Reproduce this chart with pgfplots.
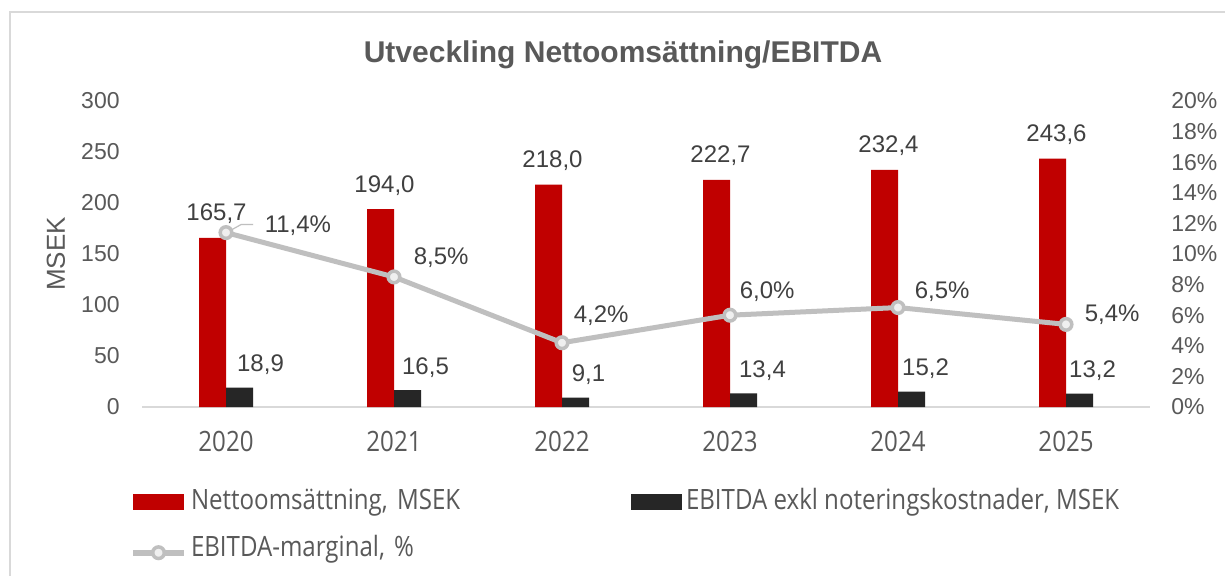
\documentclass[border=0pt]{standalone}
\usepackage{fontspec}
\setmainfont{Liberation Sans}
\newfontfamily\cond[FakeStretch=0.86]{Open Sans}
\usepackage{pgfplots}
\usepackage{pgfplotstable}
\pgfplotsset{compat=1.18}
\pgfplotsset{/pgf/number format/assume math mode=true}
\definecolor{cred}{HTML}{C00000}
\definecolor{cblack}{HTML}{262626}
\definecolor{cline}{HTML}{BFBFBF}
\definecolor{cmark}{HTML}{EFEFEF}
\definecolor{caxis}{HTML}{D9D9D9}
\definecolor{ctick}{HTML}{595959}
\definecolor{clabel}{HTML}{404040}

\pgfplotstableread{
x nett ebit marg bdx pdx pdy
0 165.7 18.9 11.4 10.5 18.5 0
1 194.0 16.5 8.5 9 9 6
2 218.0 9.1 4.2 6.5 5 10
3 222.7 13.4 6.0 9.5 4 8.5
4 232.4 15.2 6.5 7 7.5 4.5
5 243.6 13.2 5.4 6.5 8.5 1.5
}\data

\begin{document}
\begin{tikzpicture}
\useasboundingbox (0,0) rectangle (612.5pt,287.5pt);
\fill[white] (0,0) rectangle (612.5pt,287.5pt);
\draw[caxis, line width=0.75pt] (5pt,-20pt) rectangle (700pt,281.5pt);
\node[anchor=base, font=\bfseries\fontsize{15}{18}\selectfont, text=ctick] at (311.5pt,256.25pt) {Utveckling Nettoomsättning/EBITDA};
\node[rotate=90, font=\fontsize{13}{15}\selectfont, text=ctick] at (28pt,160.5pt) {MSEK};

\begin{axis}[
  at={(71pt,84pt)}, anchor=south west,
  scale only axis, width=504pt, height=153pt,
  xmin=-0.5, xmax=5.5, ymin=0, ymax=300,
  clip=false,
  ybar=0pt, bar width=13.5pt,
  axis x line*=bottom, axis y line*=left,
  y axis line style={draw=none},
  x axis line style={draw=caxis, line width=1pt},
  major tick length=0pt,
  xtick={0,1,2,3,4,5},
  xticklabels={2020,2021,2022,2023,2024,2025},
  ytick={0,50,...,300},
  xticklabel style={anchor=base, yshift=-22pt, inner sep=0pt, font=\cond\fontsize{14}{16}\selectfont, text=ctick},
  yticklabel style={anchor=east, xshift=-11pt, inner sep=0pt, font=\fontsize{11.5}{14}\selectfont, text=ctick},
  legend columns=2,
  legend cell align=left,
  legend style={
    at={(axis description cs:-0.0119,-0.2696)}, anchor=north west,
    draw=none, fill=none, inner sep=0pt, outer sep=0pt,
    row sep=10.5pt,
    font=\cond\fontsize{14}{16}\selectfont, text=ctick,
    nodes={inner sep=0pt, outer sep=0pt, text height=10pt, text depth=3pt},
    /tikz/every odd column/.append style={column sep=2pt},
    /tikz/column 2/.style={text width=220pt},
  },
]
\addplot[fill=cred, draw=none,
  legend image code/.code={\fill[cred] (0pt,-3.5pt) rectangle (25.5pt,4.25pt);},
  nodes near coords={\pgfmathprintnumber[fixed,fixed zerofill,precision=1,use comma]{\pgfplotspointmeta}},
  nodes near coords style={anchor=base, yshift=8.5pt, xshift=2pt, inner sep=0pt, font=\fontsize{12}{14}\selectfont, text=clabel},
] table[x=x,y=nett]{\data};
\addlegendentry{Nettoomsättning, MSEK}
\addplot[fill=cblack, draw=none,
  legend image code/.code={\fill[cblack] (0pt,-3.5pt) rectangle (25.5pt,4.25pt);},
  visualization depends on={\thisrow{bdx} \as \bdx},
  nodes near coords={\pgfmathprintnumber[fixed,fixed zerofill,precision=1,use comma]{\pgfplotspointmeta}},
  nodes near coords style={anchor=base, yshift=8pt, xshift=\bdx pt, inner sep=0pt, font=\fontsize{12}{14}\selectfont, text=clabel},
] table[x=x,y=ebit]{\data};
\addlegendentry{EBITDA exkl noteringskostnader, MSEK}
\addlegendimage{
  legend image code/.code={\draw[cline, line width=3pt] (0pt,-1.6pt) -- (25.5pt,-1.6pt);
    \filldraw[fill=cmark, draw=cline, line width=1.75pt] (12.75pt,-1.6pt) circle (2.9pt);}}
\addlegendentry{EBITDA-marginal, \%}
\end{axis}

\begin{axis}[
  at={(71pt,84pt)}, anchor=south west,
  scale only axis, width=504pt, height=153pt,
  xmin=-0.5, xmax=5.5, ymin=0, ymax=20,
  clip=false,
  hide x axis,
  axis y line*=right,
  y axis line style={draw=none},
  major tick length=0pt,
  ytick={0,2,...,20},
  yticklabel={\pgfmathprintnumber[fixed,precision=0]{\tick}\%},
  yticklabel style={anchor=west, xshift=10.5pt, inner sep=0pt, font=\fontsize{11.5}{14}\selectfont, text=ctick},
]
\draw[cline, line width=0.6pt] ([shift={(3pt,1.5pt)}]axis cs:0,11.4) -- ([shift={(7.5pt,4pt)}]axis cs:0,11.4) -- ([shift={(13.5pt,4pt)}]axis cs:0,11.4);
\addplot[color=cline, line width=2.5pt, mark=*, mark size=2.9pt, mark options={fill=cmark, draw=cline, line width=1.75pt},
  visualization depends on={\thisrow{pdx} \as \pdx},
  visualization depends on={\thisrow{pdy} \as \pdy},
  nodes near coords={\pgfmathprintnumber[fixed,fixed zerofill,precision=1,use comma]{\pgfplotspointmeta}\%},
  nodes near coords style={anchor=base west, xshift=\pdx pt, yshift=\pdy pt, inner sep=0pt, font=\fontsize{12}{14}\selectfont, text=clabel},
] table[x=x,y=marg]{\data};
\end{axis}
\end{tikzpicture}
\end{document}
